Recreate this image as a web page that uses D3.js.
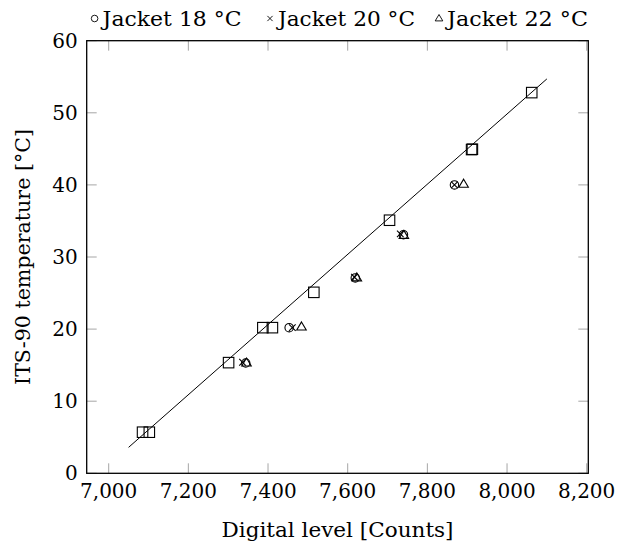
<!DOCTYPE html>
<html>
<head>
<meta charset="utf-8">
<script src="https://cdn.jsdelivr.net/npm/d3@7"></script>
<style>
  html, body { margin: 0; padding: 0; background: #fff; }
  svg { display: block; }
  text { font-family: "DejaVu Serif", "Liberation Serif", serif; fill: #000; }
</style>
</head>
<body>
<svg id="chart" width="619" height="548"></svg>
<script>
// ---- data ----
const xTicks = [7000, 7200, 7400, 7600, 7800, 8000, 8200];
const yTicks = [0, 10, 20, 30, 40, 50, 60];

const refX = [7085, 7102, 7301, 7387, 7411, 7515, 7705, 7911, 7913, 8062];
const refY = [5.7, 5.7, 15.35, 20.2, 20.2, 25.1, 35.1, 44.9, 44.95, 52.8];

const j18X = [7344, 7453, 7619, 7740, 7868];
const j18Y = [15.3, 20.2, 27.1, 33.1, 40.0];

const j20X = [7336, 7461, 7617, 7732, 7868];
const j20Y = [15.4, 20.2, 27.2, 33.2, 40.0];

const j22X = [7346, 7484, 7623, 7741, 7891];
const j22Y = [15.3, 20.3, 27.1, 33.0, 40.1];

const fitX = [7050, 8100];
const fitY = [3.6, 54.7];

const legendLabels = ["Jacket 18 \u00B0C", "Jacket 20 \u00B0C", "Jacket 22 \u00B0C"];

// ---- layout ----
const L = 86.7, R = 588.3, T = 40.7, B = 473.3;
const svg = d3.select("#chart");
const x = d3.scaleLinear().domain([6944.8, 8204]).range([L, R]);
const y = d3.scaleLinear().domain([0, 60]).range([B, T]);
const fmt = d3.format(",");
const FS = 20;
const tickLen = 10;
const tickColor = "#a6a6a6";

// ticks (inside, all four sides)
const tg = svg.append("g").attr("stroke", tickColor).attr("stroke-width", 1);
xTicks.forEach(v => {
  tg.append("line").attr("x1", x(v)).attr("x2", x(v)).attr("y1", B).attr("y2", B - tickLen);
  tg.append("line").attr("x1", x(v)).attr("x2", x(v)).attr("y1", T).attr("y2", T + tickLen);
});
yTicks.forEach(v => {
  tg.append("line").attr("x1", L).attr("x2", L + tickLen).attr("y1", y(v)).attr("y2", y(v));
  tg.append("line").attr("x1", R).attr("x2", R - tickLen).attr("y1", y(v)).attr("y2", y(v));
});

// tick labels
svg.append("g").selectAll("text").data(xTicks).join("text")
  .attr("x", d => x(d)).attr("y", B + 24.5)
  .attr("text-anchor", "middle").attr("font-size", FS)
  .text(d => fmt(d));
svg.append("g").selectAll("text").data(yTicks).join("text")
  .attr("x", L - 9).attr("y", d => y(d) + 7)
  .attr("text-anchor", "end").attr("font-size", FS)
  .text(d => d);

// axis labels
svg.append("text").attr("x", 337.5).attr("y", 537).attr("text-anchor", "middle")
  .attr("font-size", FS).attr("textLength", 232).attr("lengthAdjust", "spacingAndGlyphs")
  .text("Digital level [Counts]");
svg.append("text").attr("transform", "translate(30,257) rotate(-90)")
  .attr("text-anchor", "middle").attr("font-size", FS)
  .attr("textLength", 256).attr("lengthAdjust", "spacingAndGlyphs")
  .text("ITS-90 temperature [\u00B0C]");

// fit line
const fit = fitX.map((v, i) => [v, fitY[i]]);
svg.append("path").datum(fit)
  .attr("d", d3.line().x(d => x(d[0])).y(d => y(d[1])))
  .attr("fill", "none").attr("stroke", "#000").attr("stroke-width", 1);

// markers
const mg = svg.append("g").attr("fill", "none").attr("stroke", "#000").attr("stroke-width", 1.1);
const sq = 10.5;
refX.forEach((v, i) => {
  mg.append("rect").attr("x", x(v) - sq / 2).attr("y", y(refY[i]) - sq / 2)
    .attr("width", sq).attr("height", sq);
});
function circ(g, cx, cy, r) { g.append("circle").attr("cx", cx).attr("cy", cy).attr("r", r); }
function cross(g, cx, cy, s) {
  g.append("path").attr("d", `M${cx - s},${cy - s}L${cx + s},${cy + s}M${cx - s},${cy + s}L${cx + s},${cy - s}`);
}
function tri(g, cx, cy, s) {
  g.append("path").attr("d", `M${cx},${cy - s}L${cx + s * 0.95},${cy + s * 0.6}L${cx - s * 0.95},${cy + s * 0.6}Z`);
}
j18X.forEach((v, i) => circ(mg, x(v), y(j18Y[i]), 4.2));
j20X.forEach((v, i) => cross(mg, x(v), y(j20Y[i]), 3.3));
j22X.forEach((v, i) => tri(mg, x(v), y(j22Y[i]), 5));

// axis box
svg.append("rect").attr("x", L).attr("y", T).attr("width", R - L).attr("height", B - T)
  .attr("fill", "none").attr("stroke", "#000").attr("stroke-width", 1.3);

// legend
const lg = svg.append("g");
const legMarkX = [94.6, 270, 439];
const legW = [139, 137, 141];
const legY = 18.5;
const lm = lg.append("g").attr("fill", "none").attr("stroke", "#000").attr("stroke-width", 0.9);
circ(lm, legMarkX[0], legY, 3.3);
cross(lm, legMarkX[1], legY, 2.6);
tri(lm, legMarkX[2], legY, 4);
legendLabels.forEach((t, i) => {
  lg.append("text").attr("x", legMarkX[i] + 8).attr("y", legY + 7)
    .attr("font-size", FS).attr("textLength", legW[i]).attr("lengthAdjust", "spacingAndGlyphs")
    .text(t);
});
</script>
</body>
</html>
